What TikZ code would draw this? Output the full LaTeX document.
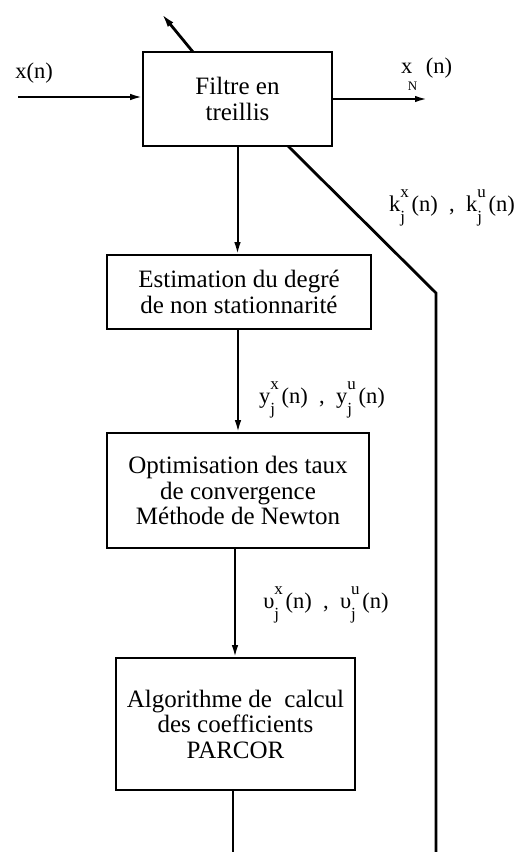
\documentclass[tikz,border=0pt]{standalone}
\usepackage{fontspec}
\setmainfont{Liberation Serif}
\usetikzlibrary{arrows.meta,calc}
\newcommand\stk[2]{\makebox[0.5em][l]{\rlap{\raisebox{0.6em}{\fontsize{17}{17}\selectfont #1}}\raisebox{-0.5em}{\fontsize{17}{17}\selectfont #2}}}
\tikzset{
  box/.style={draw, line width=1.6pt, align=center, inner sep=0pt,
    font=\fontsize{25}{25.5}\selectfont},
  lab/.style={inner sep=0pt, font=\fontsize{22.5}{24}\selectfont},
  conn/.style={line width=2pt},
  diag/.style={line width=2.8pt},
  arr/.style={conn, -{Latex[length=12pt,width=6.5pt]}},
}
\begin{document}
\begin{tikzpicture}[x=1pt,y=-1pt]
\useasboundingbox (0,0) rectangle (529,852);
\node[box, minimum width=189pt, minimum height=94pt] (filtre) at (237.5,99) {Filtre en\\treillis};
\node[box, minimum width=264pt, minimum height=74pt] (est) at (239,292) {Estimation du degré\\de non stationnarité};
\node[box, minimum width=262pt, minimum height=115pt] (opt) at (238,490.5) {Optimisation des taux\\de convergence\\Méthode de Newton};
\node[box, minimum width=239pt, minimum height=132pt] (alg) at (235.5,724) {Algorithme de\ \ calcul\\des coefficients\\PARCOR};

\node[lab] (lx) at (34,73) {x(n)};
\node[lab, anchor=west] (lxn) at (401,74) {x\rlap{\hspace{-0.2em}\raisebox{-0.75em}{\fontsize{13}{13}\selectfont N}}\hspace{0.6em}(n)};
\node[lab] (lk) at (452,208) {k\stk{x}{j}(n)\ \ ,\ \ k\stk{u}{j}(n)};
\node[lab] (ly) at (322,400) {y\stk{x}{j}(n)\ \ ,\ \ y\stk{u}{j}(n)};
\node[lab] (lv) at (326,605) {υ\stk{x}{j}(n)\ \ ,\ \ υ\stk{u}{j}(n)};

\coordinate (in) at (18,97);
\coordinate (out) at (427,99);
\coordinate (ttip) at (161,13);
\coordinate (tbase) at (193,52);
\coordinate (bstart) at (288,146);
\coordinate (bend) at (436,293);
\coordinate (bend2) at (436,852);
\coordinate (algend) at (233,852);

\draw[arr] (in) -- (in -| filtre.west);
\draw[arr] (filtre.east |- out) -- (out);
\draw[diag, -{Latex[length=15pt,width=7pt]}] (tbase) -- (ttip);
\draw[diag] (bstart) -- (bend) -- (bend2);
\draw[arr] (filtre.south) -- (filtre.south |- est.north);
\draw[arr] ($(est.south)+(-1,0)$) -- ($(est.south |- opt.north)+(-1,0)$);
\draw[arr] ($(opt.south)+(-3,0)$) -- ($(opt.south |- alg.north)+(-3,0)$);
\draw[conn] ($(alg.south)+(-2.5,0)$) -- (algend);
\end{tikzpicture}
\end{document}
